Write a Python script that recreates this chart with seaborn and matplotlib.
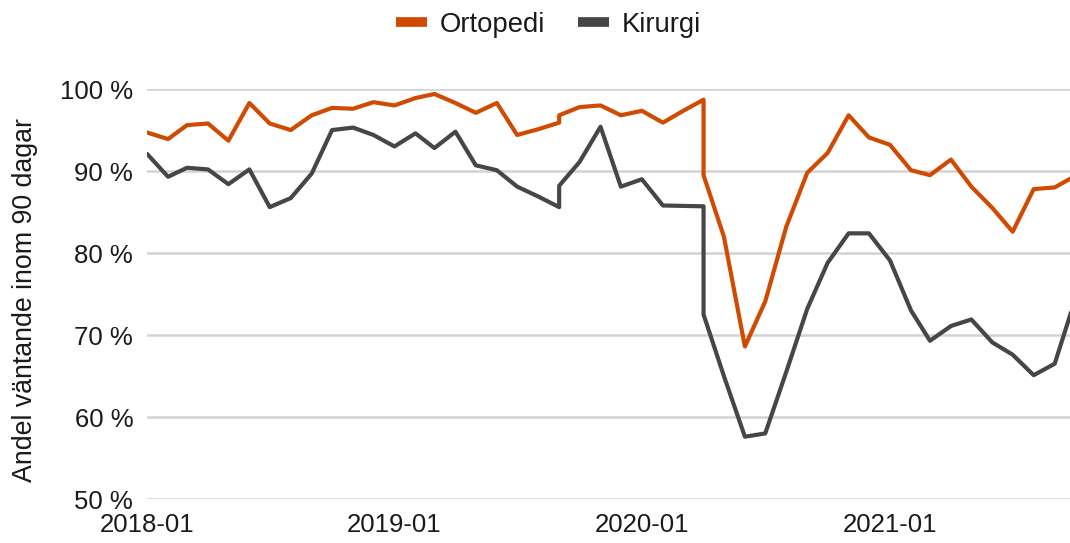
import numpy as np
import pandas as pd
import matplotlib
matplotlib.use("Agg")
from matplotlib import pyplot as plt
from matplotlib.lines import Line2D
import matplotlib.dates as mdates
import seaborn as sns

# months (2019-09 and 2020-04 appear twice: series break in the source)
months = ["2018-01", "2018-02", "2018-03", "2018-04", "2018-05", "2018-06",
          "2018-07", "2018-08", "2018-09", "2018-10", "2018-11", "2018-12",
          "2019-01", "2019-02", "2019-03", "2019-04", "2019-05", "2019-06",
          "2019-07", "2019-08", "2019-09", "2019-09", "2019-10", "2019-11", "2019-12",
          "2020-01", "2020-02", "2020-03", "2020-04", "2020-04", "2020-05", "2020-06",
          "2020-07", "2020-08", "2020-09", "2020-10", "2020-11", "2020-12",
          "2021-01", "2021-02", "2021-03", "2021-04", "2021-05", "2021-06",
          "2021-07", "2021-08", "2021-09", "2021-10"]

ortopedi = [94.7, 93.9, 95.6, 95.8, 93.7, 98.3,
            95.8, 95.0, 96.8, 97.7, 97.6, 98.4,
            98.0, 98.9, 99.4, 98.3, 97.1, 98.3,
            94.4, 95.1, 95.9, 96.8, 97.8, 98.0, 96.8,
            97.35, 95.9, 97.3, 98.7, 89.5, 82.0, 68.6,
            74.1, 83.2, 89.8, 92.2, 96.8, 94.1,
            93.2, 90.1, 89.5, 91.4, 88.1, 85.5,
            82.6, 87.8, 88.0, 89.4]

kirurgi = [92.1, 89.3, 90.4, 90.2, 88.4, 90.2,
           85.6, 86.7, 89.7, 95.0, 95.3, 94.4,
           93.0, 94.6, 92.8, 94.8, 90.7, 90.1,
           88.1, 86.9, 85.6, 88.2, 91.1, 95.4, 88.1,
           89.0, 85.8, 85.75, 85.7, 72.5, 65.0, 57.6,
           58.0, 65.5, 73.2, 78.8, 82.4, 82.4,
           79.1, 73.0, 69.3, 71.1, 71.9, 69.1,
           67.6, 65.1, 66.5, 74.3]

series_names = ["Ortopedi", "Kirurgi"]
colors = ["#d04a02", "#464646"]

dates = pd.to_datetime(months, format="%Y-%m")
df = pd.DataFrame({
    "month": list(dates) * 2,
    "value": ortopedi + kirurgi,
    "serie": [series_names[0]] * len(ortopedi) + [series_names[1]] * len(kirurgi),
})

sns.set_theme(style="white")
plt.rcParams["font.family"] = ["Liberation Sans", "DejaVu Sans"]
text_color = "#1a1a1a"

fig = plt.figure(figsize=(10.7, 5.43), dpi=100)
ax = fig.add_axes([0.1374, 0.081, 0.8673, 0.755])

sns.lineplot(data=df, x="month", y="value", hue="serie", palette=colors,
             estimator=None, sort=False, linewidth=3, legend=False, ax=ax)

ax.set_ylim(50, 100)
ax.set_xlim(pd.Timestamp("2018-01-01"), pd.Timestamp("2021-10-01"))
ax.set_yticks(np.arange(50, 101, 10))
ax.set_yticklabels([f"{v} %" for v in range(50, 101, 10)])
ax.set_xticks(pd.to_datetime(["2018-01", "2019-01", "2020-01", "2021-01"]))
ax.xaxis.set_major_formatter(mdates.DateFormatter("%Y-%m"))
ax.grid(axis="y", color="#d2d2d2", linewidth=1.8)
ax.set_axisbelow(True)
for s in ax.spines.values():
    s.set_visible(False)
ax.tick_params(axis="both", labelsize=18.5, colors=text_color, length=0)
ax.tick_params(axis="y", pad=10)
ax.tick_params(axis="x", pad=10)
ax.set_xlabel("")
ax.set_ylabel("Andel väntande inom 90 dagar", fontsize=19.3, color=text_color)
ax.yaxis.set_label_coords(-0.1175, 0.485)

handles = [Line2D([0], [0], color=c, linewidth=7, solid_capstyle="butt") for c in colors]
fig.legend(handles, series_names, loc="upper center", bbox_to_anchor=(0.5126, 1.024),
           ncol=2, frameon=False, fontsize=19.8, handlelength=1.13,
           columnspacing=1.2, handletextpad=0.47, labelcolor=text_color)

fig.savefig("out.png", dpi=100)
